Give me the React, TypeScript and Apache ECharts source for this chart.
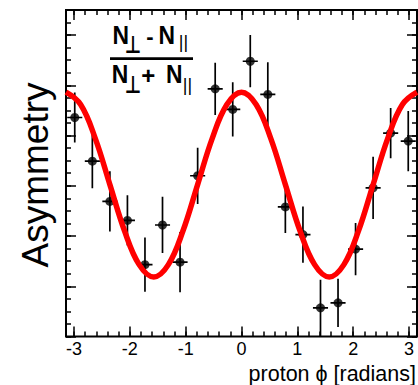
import React, { useEffect, useRef } from "react";
import * as echarts from "echarts";

// Bin centres (radians), measured asymmetry and its error
const PHI = [-2.985, -2.670, -2.356, -2.042, -1.728, -1.414, -1.100, -0.785, -0.471, -0.157,
  0.157, 0.471, 0.785, 1.100, 1.414, 1.728, 2.042, 2.356, 2.670, 2.985];
const ASYM = [0.136, 0.049, -0.031, -0.069, -0.157, -0.078, -0.152, 0.020, 0.193, 0.152,
  0.248, 0.182, -0.042, -0.097, -0.243, -0.233, -0.126, -0.004, 0.105, 0.089];
const ERR = [0.050, 0.054, 0.060, 0.050, 0.054, 0.056, 0.060, 0.056, 0.052, 0.054,
  0.052, 0.064, 0.052, 0.056, 0.056, 0.048, 0.052, 0.062, 0.050, 0.060];
const HALF_BIN = 0.135;

// Fit curve samples
const FIT_PHI = [-3.1416, -2.8798, -2.618, -2.3562, -2.0944, -1.8326, -1.5708, -1.309, -1.0472,
  -0.7854, -0.5236, -0.2618, 0, 0.2618, 0.5236, 0.7854, 1.0472, 1.309, 1.5708, 1.8326, 2.0944,
  2.3562, 2.618, 2.8798, 3.1416];
const FIT_VAL = [0.1865, 0.1619, 0.0945, 0.0025, -0.0895, -0.1569, -0.1815, -0.1569, -0.0895,
  0.0025, 0.0945, 0.1619, 0.1865, 0.1619, 0.0945, 0.0025, -0.0895, -0.1569, -0.1815, -0.1569,
  -0.0895, 0.0025, 0.0945, 0.1619, 0.1865];

// Ticks
const X_MAJOR = [-3, -2, -1, 0, 1, 2, 3];
const X_MINOR = [-3, -2.8, -2.6, -2.4, -2.2, -2, -1.8, -1.6, -1.4, -1.2, -1, -0.8, -0.6, -0.4,
  -0.2, 0, 0.2, 0.4, 0.6, 0.8, 1, 1.2, 1.4, 1.6, 1.8, 2, 2.2, 2.4, 2.6, 2.8, 3];
const Y_MAJOR = [-0.3, -0.2, -0.1, 0, 0.1, 0.2, 0.3];
const Y_MINOR = [-0.3, -0.275, -0.25, -0.225, -0.2, -0.175, -0.15, -0.125, -0.1, -0.075, -0.05,
  -0.025, 0, 0.025, 0.05, 0.075, 0.1, 0.125, 0.15, 0.175, 0.2, 0.225, 0.25, 0.275, 0.3, 0.325, 0.35];

const X_MIN = -Math.PI;
const X_MAX = Math.PI;
const Y_MIN = -0.3;
const Y_MAX = 0.35;

const FONT = "'Liberation Sans', Arial, Helvetica, sans-serif";

function xAxisDef(position: "bottom" | "top", ticks: number[], len: number, labels: boolean) {
  return {
    type: "value",
    gridIndex: 0,
    position,
    offset: 0,
    min: X_MIN,
    max: X_MAX,
    axisLine: { show: false, onZero: false },
    splitLine: { show: false },
    axisTick: {
      show: true,
      inside: true,
      length: len,
      customValues: ticks,
      lineStyle: { color: "#000", width: 1.5 },
    },
    axisLabel: labels
      ? {
          show: true,
          customValues: X_MAJOR,
          fontSize: 18,
          fontFamily: FONT,
          color: "#000",
          margin: 3,
          formatter: (v: number) => String(Math.round(v)),
        }
      : { show: false },
  };
}

function yAxisDef(position: "left" | "right", ticks: number[], len: number) {
  return {
    type: "value",
    gridIndex: 0,
    position,
    offset: 0,
    min: Y_MIN,
    max: Y_MAX,
    axisLine: { show: false, onZero: false },
    splitLine: { show: false },
    axisTick: {
      show: true,
      inside: true,
      length: len,
      customValues: ticks,
      lineStyle: { color: "#000", width: 1.5 },
    },
    axisLabel: { show: false },
  };
}

export default function App() {
  const ref = useRef<HTMLDivElement>(null);

  useEffect(() => {
    if (!ref.current) return;
    const chart = echarts.init(ref.current, undefined, { renderer: "svg" });

    const errData = PHI.map((p, i) => [p, ASYM[i], ERR[i]]);
    const ptData = PHI.map((p, i) => [p, ASYM[i]]);
    const fitData = FIT_PHI.map((p, i) => [p, FIT_VAL[i]]);

    const txt = (
      text: string,
      x: number,
      y: number,
      font: string,
      scaleX = 1,
      rotation = 0
    ) => ({
      type: "text",
      x,
      y,
      scaleX,
      rotation,
      z: 100,
      style: {
        text,
        x: 0,
        y: 0,
        font,
        fill: "#000",
        textAlign: "center",
        textVerticalAlign: "middle",
      },
    });

    const option = {
      animation: false,
      backgroundColor: "#fff",
      grid: {
        left: 66,
        top: 10,
        width: 351,
        height: 326.5,
        show: true,
        borderColor: "#000",
        borderWidth: 2,
        backgroundColor: "transparent",
      },
      xAxis: [
        xAxisDef("bottom", X_MAJOR, 10, true),
        xAxisDef("bottom", X_MINOR, 5, false),
        xAxisDef("top", X_MAJOR, 10, false),
        xAxisDef("top", X_MINOR, 5, false),
      ],
      yAxis: [
        yAxisDef("left", Y_MAJOR, 10),
        yAxisDef("left", Y_MINOR, 5),
        yAxisDef("right", Y_MAJOR, 10),
        yAxisDef("right", Y_MINOR, 5),
      ],
      series: [
        {
          type: "custom",
          xAxisIndex: 0,
          yAxisIndex: 0,
          clip: true,
          z: 2,
          data: errData,
          encode: { x: 0, y: 1 },
          renderItem: (params: any, api: any) => {
            const x = api.value(0);
            const y = api.value(1);
            const e = api.value(2);
            const c = api.coord([x, y]);
            const t = api.coord([x, y + e]);
            const b = api.coord([x, y - e]);
            const l = api.coord([x - HALF_BIN, y]);
            const r = api.coord([x + HALF_BIN, y]);
            const st = { stroke: "#000", lineWidth: 1.7 };
            return {
              type: "group",
              children: [
                { type: "line", shape: { x1: c[0], y1: t[1], x2: c[0], y2: b[1] }, style: st },
                { type: "line", shape: { x1: l[0], y1: c[1], x2: r[0], y2: c[1] }, style: st },
              ],
            };
          },
        },
        {
          type: "scatter",
          xAxisIndex: 0,
          yAxisIndex: 0,
          z: 3,
          symbol: "circle",
          symbolSize: 9,
          itemStyle: { color: "#000" },
          data: ptData,
        },
        {
          type: "line",
          xAxisIndex: 0,
          yAxisIndex: 0,
          z: 4,
          smooth: 0.4,
          showSymbol: false,
          symbol: "none",
          lineStyle: { color: "#ff0000", width: 5.5 },
          data: fitData,
        },
      ],
      graphic: [
        // y-axis title
        txt("Asymmetry", 35, 175, `37px ${FONT}`, 1, Math.PI / 2),
        // x-axis title
        {
          type: "text",
          z: 100,
          style: {
            text: "proton \u03d5 [radians]",
            x: 416,
            y: 374,
            font: `21.5px ${FONT}`,
            fill: "#000",
            textAlign: "right",
            textVerticalAlign: "middle",
          },
        },
        // formula numerator
        txt("N", 120.8, 34.5, `bold 26px ${FONT}`, 0.88),
        txt("\u22a5", 133, 45, `bold 24px 'DejaVu Sans', sans-serif`, 0.75),
        txt("-", 150, 36, `bold 22px ${FONT}`),
        txt("N", 166.7, 34.5, `bold 26px ${FONT}`, 0.88),
        txt("||", 183.5, 41.5, `18px ${FONT}`),
        // fraction bar
        {
          type: "rect",
          z: 100,
          shape: { x: 110, y: 57.3, width: 83, height: 2.8 },
          style: { fill: "#000" },
        },
        // denominator
        txt("N", 120, 74, `bold 26px ${FONT}`, 0.88),
        txt("\u22a5", 133, 84.5, `bold 24px 'DejaVu Sans', sans-serif`, 0.75),
        txt("+", 148.3, 75, `bold 24px ${FONT}`),
        txt("N", 174.3, 74, `bold 26px ${FONT}`, 0.88),
        txt("||", 187.5, 85, `18px ${FONT}`),
      ],
    };

    chart.setOption(option as any);
    return () => chart.dispose();
  }, []);

  return (
    <div
      ref={ref}
      style={{ position: "fixed", left: 0, top: 0, width: 418, height: 385, background: "#fff" }}
    />
  );
}
